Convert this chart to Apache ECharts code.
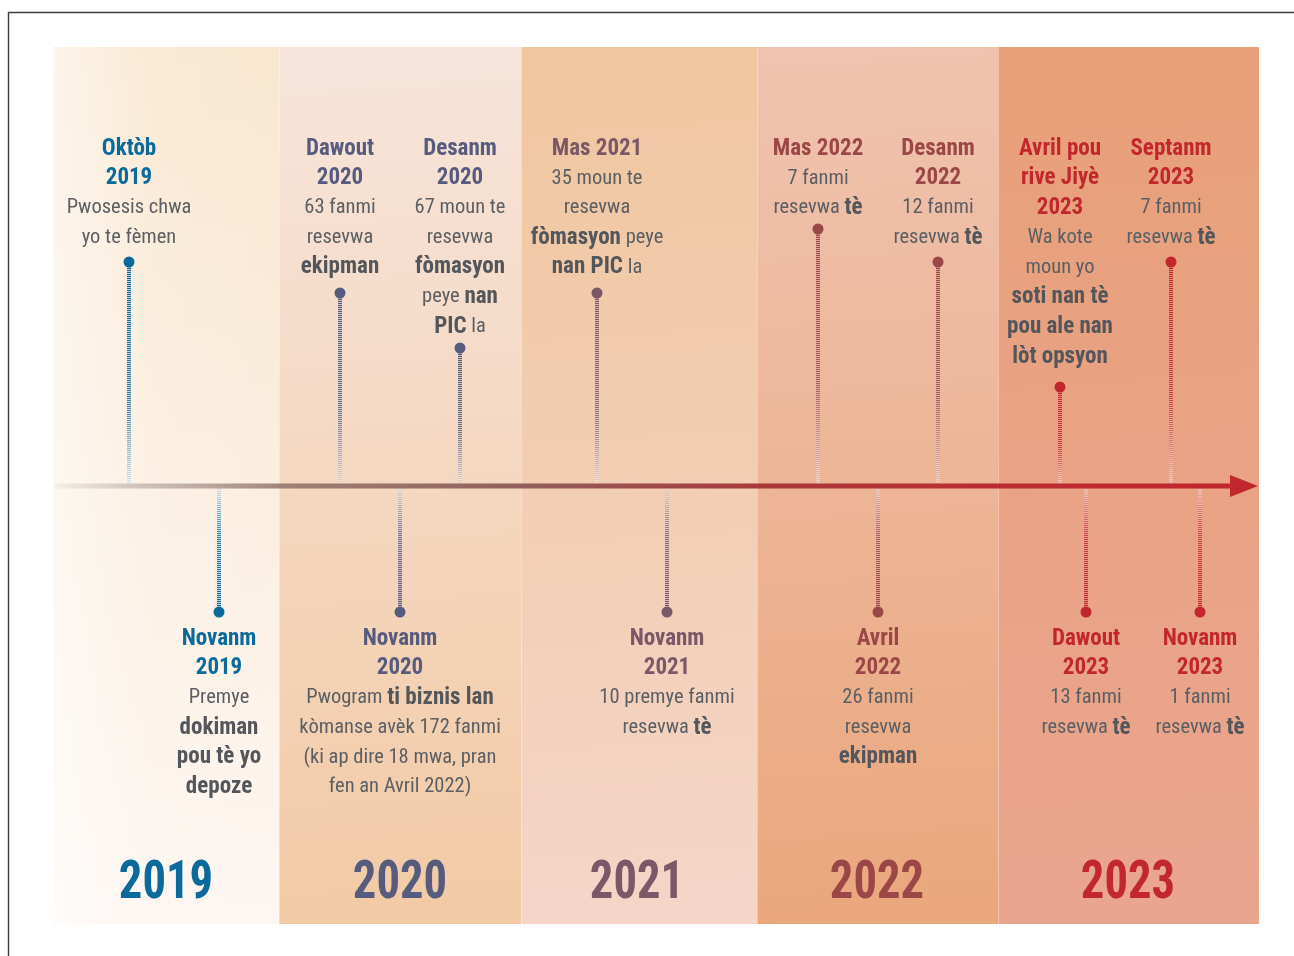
<!DOCTYPE html>
<html>
<head>
<meta charset="utf-8">
<script src="https://cdn.jsdelivr.net/npm/echarts@6/dist/echarts.min.js"></script>
<style>
html,body{margin:0;padding:0;background:#fff;}
#chart{width:1294px;height:956px;}
</style>
</head>
<body>
<div id="chart"></div>
<script>
// ---- Data ----
const years = ['2019', '2020', '2021', '2022', '2023'];
const yearColors = ['#0B6A9C', '#575C7E', '#7B5868', '#9B4747', '#C1272D'];
const panelStart = [0, 226, 468, 704, 945];
const panelEnd = [226, 468, 704, 945, 1206];
const yearLabelX = [113, 347, 584, 824, 1075];

const eventTitles = [
  ['Oktòb', '2019'],
  ['Novanm', '2019'],
  ['Dawout', '2020'],
  ['Novanm', '2020'],
  ['Desanm', '2020'],
  ['Mas 2021'],
  ['Novanm', '2021'],
  ['Mas 2022'],
  ['Avril', '2022'],
  ['Desanm', '2022'],
  ['Avril pou', 'rive Jiyè', '2023'],
  ['Dawout', '2023'],
  ['Septanm', '2023'],
  ['Novanm', '2023']
];
const eventBodies = [
  ['Pwosesis chwa', 'yo te fèmen'],
  ['Premye', '**dokiman**', '**pou tè yo**', '**depoze**'],
  ['63 fanmi', 'resevwa', '**ekipman**'],
  ['Pwogram **ti biznis lan**', 'kòmanse avèk 172 fanmi', '(ki ap dire 18 mwa, pran', 'fen an Avril 2022)'],
  ['67 moun te', 'resevwa', '**fòmasyon**', 'peye **nan**', '**PIC** la'],
  ['35 moun te', 'resevwa', '**fòmasyon** peye', '**nan PIC** la'],
  ['10 premye fanmi', 'resevwa **tè**'],
  ['7 fanmi', 'resevwa **tè**'],
  ['26 fanmi', 'resevwa', '**ekipman**'],
  ['12 fanmi', 'resevwa **tè**'],
  ['Wa kote', 'moun yo', '**soti nan tè**', '**pou ale nan**', '**lòt opsyon**'],
  ['13 fanmi', 'resevwa **tè**'],
  ['7 fanmi', 'resevwa **tè**'],
  ['1 fanmi', 'resevwa **tè**']
];
const eventX = [76, 166, 287, 347, 407, 544, 614, 765, 825, 885, 1007, 1033, 1118, 1147];
const eventDotY = [224, -126, 193, -126, 138, 193, -126, 257, -126, 224, 99, -126, 224, -126];
const eventYear = [0, 0, 1, 1, 1, 2, 2, 3, 3, 3, 4, 4, 4, 4];

// ---- Styles ----
const FONT = "'Liberation Sans Narrow','Roboto Condensed','DejaVu Sans Condensed',sans-serif";
const panelTop = ['#F9E7CF', '#F7E5DC', '#F0C69E', '#F0C3B0', '#E8A079'];
const panelBottom = ['#FDF6F1', '#F2CAA5', '#F4D5C8', '#EAA77D', '#EAA58F'];
const BODY = '#5B5F63';
const BOLD = '#53565A';
const LH = 29.7;

function richBody(line) {
  const parts = line.split('**');
  let s = '';
  parts.forEach((p, i) => {
    if (!p) return;
    s += (i % 2 === 1 ? '{b|' : '{r|') + p + '}';
  });
  return s;
}

const chart = echarts.init(document.getElementById('chart'));

const option = {
  animation: false,
  backgroundColor: '#ffffff',
  grid: { left: 53, right: 35, top: 47, bottom: 32 },
  xAxis: { type: 'value', min: 0, max: 1206, show: false },
  yAxis: { type: 'value', min: -438, max: 439, show: false },
  graphic: [{
    type: 'polyline',
    shape: { points: [[8.5, 956], [8.5, 12.5], [1294, 12.5]] },
    style: { stroke: '#3C3C3C', lineWidth: 1.4, fill: null }
  }],
  series: [
    {
      type: 'custom',
      silent: true,
      clip: false,
      data: years.map((y, i) => [panelStart[i], panelEnd[i], i]),
      renderItem: function (params, api) {
        const i = api.value(2);
        const p1 = api.coord([api.value(0), 439]);
        const p2 = api.coord([api.value(1), -438]);
        const children = [{
          type: 'rect',
          shape: { x: p1[0], y: p1[1], width: p2[0] - p1[0], height: p2[1] - p1[1] },
          style: {
            fill: new echarts.graphic.LinearGradient(0, 0, 0.25, 1, [
              { offset: 0, color: panelTop[i] },
              { offset: 1, color: panelBottom[i] }
            ])
          }
        }];
        if (i === 0) {
          children.push({
            type: 'rect',
            shape: { x: p1[0], y: p1[1], width: p2[0] - p1[0], height: p2[1] - p1[1] },
            style: {
              fill: new echarts.graphic.LinearGradient(0, 0, 1, 0, [
                { offset: 0, color: 'rgba(255,255,255,0.55)' },
                { offset: 0.45, color: 'rgba(255,255,255,0.1)' },
                { offset: 1, color: 'rgba(255,255,255,0)' }
              ])
            }
          });
        } else {
          children.push({
            type: 'line',
            shape: { x1: p1[0] + 0.5, y1: p1[1], x2: p1[0] + 0.5, y2: p2[1] },
            style: { stroke: 'rgba(255,255,255,0.35)', lineWidth: 1 }
          });
        }
        return { type: 'group', children: children };
      }
    },
    {
      type: 'custom',
      silent: true,
      clip: false,
      data: [[2, 1177, 1205]],
      renderItem: function (params, api) {
        const a = api.coord([api.value(0), 0]);
        const b = api.coord([api.value(1), 0]);
        const c = api.coord([api.value(2), 0]);
        return {
          type: 'group',
          children: [
            {
              type: 'line',
              shape: { x1: a[0], y1: a[1], x2: b[0] + 2, y2: b[1] },
              style: {
                lineWidth: 5,
                stroke: new echarts.graphic.LinearGradient(0, 0, 1, 0, [
                  { offset: 0, color: 'rgba(205,195,188,0.15)' },
                  { offset: 0.07, color: 'rgba(200,188,180,0.85)' },
                  { offset: 0.2, color: '#9E7F76' },
                  { offset: 0.4, color: '#925E5B' },
                  { offset: 0.6, color: '#A8393B' },
                  { offset: 0.8, color: '#BB2C31' },
                  { offset: 1, color: '#C1272D' }
                ])
              }
            },
            {
              type: 'polygon',
              shape: { points: [[b[0], b[1] - 11], [c[0], c[1]], [b[0], b[1] + 11]] },
              style: { fill: '#C1272D' }
            }
          ]
        };
      }
    },
    {
      type: 'custom',
      silent: true,
      clip: false,
      data: eventX.map((x, i) => [x, eventDotY[i], i]),
      renderItem: function (params, api) {
        const i = api.value(2);
        const color = yearColors[eventYear[i]];
        const dot = api.coord([api.value(0), api.value(1)]);
        const base = api.coord([api.value(0), 0]);
        const up = api.value(1) > 0;
        const labelTop = api.coord([api.value(0), up ? 352 : -138]);
        const y1 = up ? dot[1] + 4 : base[1] + 3;
        const y2 = up ? base[1] - 3 : dot[1] - 4;
        const fadeStops = up
          ? [[0, 1], [0.6, 0.85], [1, 0.15]]
          : [[0, 0.15], [0.4, 0.85], [1, 1]];
        const stemGrad = new echarts.graphic.LinearGradient(0, 0, 0, 1,
          fadeStops.map(s => ({ offset: s[0], color: echarts.color.modifyAlpha(color, s[1]) })));
        const whiteGrad = new echarts.graphic.LinearGradient(0, 0, 0, 1, up
          ? [{ offset: 0, color: 'rgba(255,255,255,0.1)' }, { offset: 1, color: 'rgba(255,255,255,0.45)' }]
          : [{ offset: 0, color: 'rgba(255,255,255,0.45)' }, { offset: 1, color: 'rgba(255,255,255,0.1)' }]);
        const lines = eventTitles[i].map(t => '{t|' + t + '}')
          .concat(eventBodies[i].map(richBody));
        return {
          type: 'group',
          children: [
            {
              type: 'line',
              shape: { x1: dot[0], y1: y1, x2: dot[0], y2: y2 },
              style: { stroke: whiteGrad, lineWidth: 4 }
            },
            {
              type: 'line',
              shape: { x1: dot[0], y1: y1, x2: dot[0], y2: y2 },
              style: { stroke: stemGrad, lineWidth: 4, lineDash: [1.2, 0.8] }
            },
            {
              type: 'circle',
              shape: { cx: dot[0], cy: dot[1], r: 5.5 },
              style: { fill: color }
            },
            {
              type: 'text',
              x: labelTop[0],
              y: labelTop[1],
              style: {
                text: lines.join('\n'),
                align: 'center',
                verticalAlign: 'top',
                lineHeight: LH,
                fontFamily: FONT,
                fontSize: 20.5,
                rich: {
                  t: { fontFamily: FONT, fontSize: 23, fontWeight: 'bold', fill: color, lineHeight: LH, align: 'center' },
                  r: { fontFamily: FONT, fontSize: 20.5, fontWeight: 'normal', fill: BODY, lineHeight: LH, align: 'center' },
                  b: { fontFamily: FONT, fontSize: 23, fontWeight: 'bold', fill: BOLD, lineHeight: LH, align: 'center' }
                }
              }
            }
          ]
        };
      }
    },
    {
      type: 'custom',
      silent: true,
      clip: false,
      data: yearLabelX.map((x, i) => [x, -399, i]),
      renderItem: function (params, api) {
        const i = api.value(2);
        const p = api.coord([api.value(0), api.value(1)]);
        return {
          type: 'text',
          x: p[0],
          y: p[1],
          scaleX: 0.88,
          style: {
            text: years[i],
            align: 'center',
            verticalAlign: 'middle',
            fontFamily: FONT,
            fontSize: 53,
            fontWeight: 'bold',
            fill: yearColors[i]
          }
        };
      }
    }
  ]
};

chart.setOption(option);
</script>
</body>
</html>
